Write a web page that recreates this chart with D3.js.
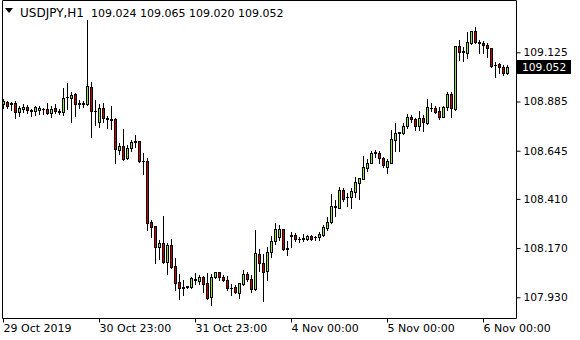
<!DOCTYPE html>
<html><head><meta charset="utf-8">
<script src="https://cdn.jsdelivr.net/npm/d3@7"></script>
<style>
html,body{margin:0;padding:0;background:#fff;}
svg{display:block;}
text{font-family:"DejaVu Sans",sans-serif;}
</style></head>
<body>
<svg id="c" width="580" height="340"></svg>
<script>
const symbol = "USDJPY,H1";
const lastQuote = [109.024, 109.065, 109.020, 109.052];
const openS = [108.871,108.881,108.878,108.876,108.835,108.848,108.858,108.844,108.837,108.845,108.850,108.847,108.830,108.853,108.839,108.832,108.906,108.904,108.922,108.878,
108.875,108.871,108.956,108.841,108.786,108.852,108.803,108.798,108.800,108.648,108.668,108.608,108.657,108.686,108.692,108.597,108.595,108.297,108.278,108.177,
108.195,108.104,108.185,108.083,108.005,107.980,107.979,107.982,108.018,108.011,108.030,107.998,107.930,108.027,108.052,108.029,108.014,107.975,107.979,107.952,
107.993,108.044,108.018,107.969,108.141,108.096,108.060,108.149,108.204,108.225,108.262,108.169,108.230,108.232,108.216,108.216,108.213,108.229,108.224,108.223,
108.236,108.268,108.299,108.374,108.368,108.453,108.419,108.418,108.445,108.489,108.508,108.562,108.586,108.635,108.635,108.608,108.567,108.586,108.697,108.733,
108.730,108.764,108.808,108.798,108.766,108.803,108.782,108.852,108.852,108.839,108.811,108.856,108.922,108.848,109.156,109.130,109.120,109.172,109.229,109.174,
109.172,109.161,109.145,109.065,109.068,109.052,109.024];
const highS = [108.897,108.887,108.881,108.887,108.863,108.871,108.868,108.848,108.862,108.862,108.855,108.876,108.864,108.871,108.848,108.952,108.974,108.933,108.925,108.892,
108.887,109.282,108.982,108.892,108.871,108.876,108.814,108.863,108.803,108.681,108.751,108.673,108.697,108.722,108.694,108.632,108.608,108.307,108.279,108.209,
108.326,108.193,108.214,108.120,108.044,108.014,107.987,108.030,108.047,108.039,108.034,108.047,108.044,108.055,108.055,108.039,108.034,107.995,107.990,108.001,
108.063,108.055,108.039,108.258,108.166,108.141,108.177,108.229,108.291,108.283,108.264,108.206,108.248,108.245,108.225,108.239,108.236,108.234,108.231,108.248,
108.283,108.323,108.434,108.405,108.466,108.462,108.440,108.462,108.515,108.512,108.619,108.603,108.645,108.648,108.644,108.613,108.605,108.746,108.782,108.738,
108.782,108.824,108.819,108.803,108.840,108.819,108.896,108.879,108.863,108.860,108.863,108.933,108.933,109.157,109.185,109.152,109.223,109.230,109.247,109.185,
109.182,109.172,109.146,109.079,109.074,109.063,109.065];
const lowS = [108.855,108.852,108.844,108.806,108.816,108.832,108.829,108.814,108.819,108.826,108.823,108.823,108.808,108.830,108.824,108.819,108.848,108.786,108.814,108.852,
108.858,108.868,108.713,108.770,108.762,108.786,108.757,108.751,108.584,108.629,108.600,108.605,108.645,108.665,108.592,108.531,108.258,108.223,108.099,108.117,
108.096,108.044,108.075,107.966,107.923,107.941,107.974,107.974,107.995,107.995,107.956,107.924,107.892,108.023,108.014,108.011,107.966,107.941,107.952,107.925,
107.990,108.011,107.957,107.967,108.060,107.913,108.014,108.125,108.190,108.209,108.161,108.136,108.177,108.206,108.201,108.206,108.208,108.209,108.209,108.209,
108.229,108.258,108.291,108.326,108.364,108.401,108.375,108.364,108.421,108.411,108.506,108.546,108.583,108.616,108.583,108.564,108.538,108.583,108.645,108.645,
108.725,108.756,108.786,108.746,108.746,108.743,108.775,108.840,108.830,108.798,108.808,108.844,108.808,108.844,109.087,109.084,109.096,109.165,109.169,109.120,
109.120,109.101,109.055,109.003,109.023,109.014,109.020];
const closeS = [108.887,108.864,108.871,108.835,108.852,108.858,108.845,108.839,108.857,108.853,108.848,108.830,108.848,108.837,108.834,108.901,108.908,108.917,108.874,108.873,
108.877,108.961,108.840,108.837,108.852,108.803,108.800,108.795,108.652,108.668,108.605,108.657,108.687,108.691,108.593,108.593,108.294,108.274,108.177,108.195,
108.104,108.186,108.076,108.001,107.975,107.977,107.985,108.023,108.016,108.030,107.995,107.925,108.027,108.052,108.027,108.013,107.974,107.973,107.954,107.998,
108.044,108.018,107.969,108.145,108.096,108.055,108.149,108.204,108.262,108.262,108.167,108.166,108.232,108.216,108.214,108.217,108.229,108.216,108.222,108.239,
108.274,108.299,108.375,108.370,108.453,108.409,108.417,108.448,108.492,108.510,108.564,108.584,108.632,108.639,108.608,108.574,108.596,108.701,108.730,108.734,
108.766,108.808,108.798,108.766,108.803,108.786,108.857,108.855,108.835,108.811,108.857,108.920,108.852,109.156,109.128,109.128,109.174,109.229,109.177,109.172,
109.159,109.145,109.060,109.063,109.052,109.025,109.052];
const yTickValues = [107.930,108.170,108.410,108.645,108.885,109.125];
const yTickLabels = ["107.930","108.170","108.410","108.645","108.885","109.125"];
const xTickIndex = [0,24,48,72,96,120];
const xTickLabels = ["29 Oct 2019","30 Oct 23:00","31 Oct 23:00","4 Nov 00:00","5 Nov 00:00","6 Nov 00:00"];

const bars = openS.map((o,i)=>({i, o, h:highS[i], l:lowS[i], c:closeS[i]}));
const N = bars.length;
const svg = d3.select("#c");
const L = 2, R = 516, T = 0, B = 318;
const x = d3.scaleLinear().domain([0, N-1]).range([3.5, 3.5 + 4*(N-1)]);
const y = d3.scaleLinear().domain([107.930, 109.125]).range([297.3, 52.3]);
const BULL = "#94e631", BEAR = "#d40000";

const g = svg.append("g");
bars.forEach(b=>{
  const cx = x(b.i);
  const yh = Math.round(y(b.h)), yl = Math.round(y(b.l));
  g.append("line").attr("x1",cx).attr("x2",cx).attr("y1",yh).attr("y2",yl+1)
    .attr("stroke","#000").attr("stroke-width",1);
  const top = Math.round(y(Math.max(b.o,b.c))), bot = Math.round(y(Math.min(b.o,b.c)));
  if (bot - top < 1) {
    g.append("line").attr("x1",cx-1.5).attr("x2",cx+1.5).attr("y1",top+0.5).attr("y2",top+0.5)
      .attr("stroke","#000").attr("stroke-width",1);
  } else {
    g.append("rect").attr("x",cx-1).attr("width",2).attr("y",top+0.5).attr("height",bot-top)
      .attr("fill", b.c >= b.o ? BULL : BEAR).attr("stroke","#000").attr("stroke-width",1);
  }
});

// frame
svg.append("path").attr("d",`M${L+0.5},${T+0.5}H${R+0.5}V${B+0.5}H${L+0.5}Z`)
  .attr("fill","none").attr("stroke","#000").attr("stroke-width",1);

// right axis
const ya = svg.append("g").attr("transform",`translate(${R+0.5},0)`)
  .call(d3.axisRight(y).tickValues(yTickValues).tickFormat((d,k)=>yTickLabels[k]).tickSize(4).tickPadding(3));
ya.select(".domain").remove();
ya.selectAll("text").attr("font-size","10.7px").attr("fill","#000").style("font-family","DejaVu Sans");

// bottom axis
const xa = svg.append("g").attr("transform",`translate(0,${B+0.5})`)
  .call(d3.axisBottom(x).tickValues(xTickIndex).tickFormat((d,k)=>xTickLabels[k]).tickSize(4).tickPadding(2));
xa.select(".domain").remove();
xa.selectAll(".tick line").attr("transform","translate(-0.5,0)");
xa.selectAll("text").attr("text-anchor","start").attr("dx","-0.5").attr("font-size","11px").attr("fill","#000").style("font-family","DejaVu Sans");

// current price box
const cy = y(lastQuote[3]);
svg.append("rect").attr("x",517).attr("y",Math.round(cy)-7).attr("width",54).attr("height",14).attr("fill","#000");
svg.append("text").attr("x",522).attr("y",cy).attr("dy","0.36em").attr("fill","#fff").attr("font-size","10.7px")
  .text(d3.format(".3f")(lastQuote[3]));

// title
svg.append("path").attr("d","M5,8H13L9,13Z").attr("fill","#000");
svg.append("text").attr("x",20).attr("y",16.5).attr("font-size","12px").attr("fill","#000").text(symbol);
svg.append("text").attr("x",91).attr("y",16.5).attr("font-size","11px").attr("fill","#000")
  .text(lastQuote.map(d3.format(".3f")).join(" "));
</script>
</body></html>
